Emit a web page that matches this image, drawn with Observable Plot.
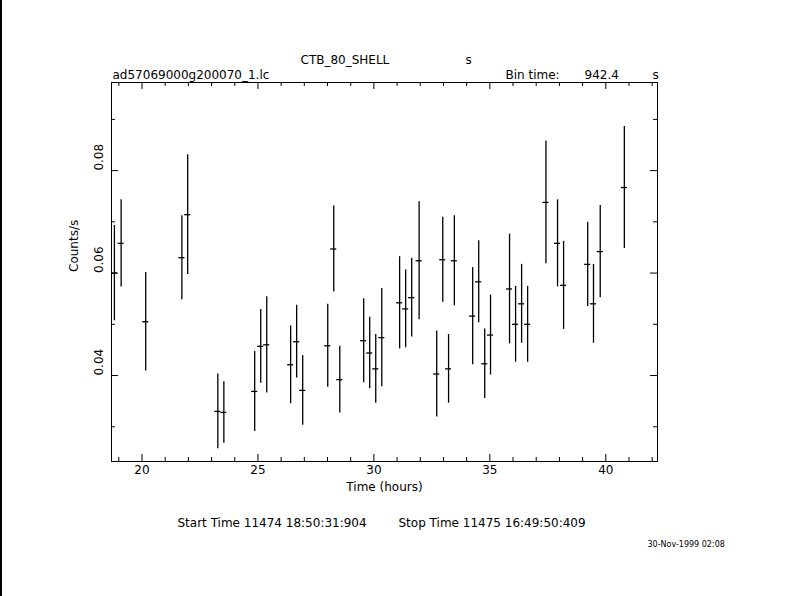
<!DOCTYPE html>
<html>
<head>
<meta charset="utf-8">
<script src="https://cdn.jsdelivr.net/npm/d3@7"></script>
<script src="https://cdn.jsdelivr.net/npm/@observablehq/plot@0.6"></script>
<style>
  html, body { margin: 0; padding: 0; background: white; }
  #wrap { position: relative; width: 790px; height: 596px; }
  #edge { position: absolute; left: 0; top: 0; width: 2px; height: 596px; background: black; }
</style>
</head>
<body>
<div id="wrap"><div id="edge"></div></div>
<script>
// Light curve: time (hours), rate (counts/s), 1-sigma error
const times = [18.81, 19.10, 20.16, 21.72, 21.97, 23.27, 23.53, 24.86, 25.12, 25.38,
  26.41, 26.67, 26.93, 28.01, 28.27, 28.53, 29.56, 29.82, 30.08, 30.34,
  31.11, 31.37, 31.63, 31.95, 32.71, 32.97, 33.22, 33.47, 34.26, 34.52,
  34.78, 35.03, 35.85, 36.11, 36.37, 36.63, 37.42, 37.92, 38.18, 39.22,
  39.47, 39.76, 40.80];
const rates = [0.0600, 0.0658, 0.0505, 0.0630, 0.0714, 0.0330, 0.0328, 0.0369, 0.0457, 0.0460,
  0.0421, 0.0466, 0.0371, 0.0458, 0.0647, 0.0392, 0.0468, 0.0444, 0.0413, 0.0474,
  0.0542, 0.0530, 0.0552, 0.0624, 0.0403, 0.0626, 0.0413, 0.0624, 0.0516, 0.0583,
  0.0423, 0.0479, 0.0569, 0.0500, 0.0540, 0.0500, 0.0738, 0.0658, 0.0576, 0.0617,
  0.0540, 0.0642, 0.0767];
const errors = [0.0093, 0.0085, 0.0096, 0.0082, 0.0117, 0.0073, 0.0060, 0.0078, 0.0072, 0.0094,
  0.0076, 0.0071, 0.0068, 0.0081, 0.0084, 0.0065, 0.0082, 0.0070, 0.0067, 0.0096,
  0.0090, 0.0076, 0.0077, 0.0115, 0.0084, 0.0083, 0.0067, 0.0088, 0.0095, 0.0080,
  0.0068, 0.0078, 0.0107, 0.0074, 0.0077, 0.0074, 0.0120, 0.0085, 0.0086, 0.0082,
  0.0077, 0.0090, 0.0119];
const binTimeSec = 942.4;
const xMajor = [20, 25, 30, 35, 40];
const xMinor = [19, 21, 22, 23, 24, 26, 27, 28, 29, 31, 32, 33, 34, 36, 37, 38, 39, 41, 42];
const yMajor = [0.04, 0.06, 0.08];
const yMinor = [0.03, 0.05, 0.07, 0.09];
const titleText = "CTB_80_SHELL";
const fileText = "ad57069000g200070_1.lc";
const startText = "Start Time 11474 18:50:31:904";
const stopText = "Stop Time 11475 16:49:50:409";
const dateText = "30-Nov-1999 02:08";

const data = times.map((t, i) => ({t, r: rates[i], e: errors[i]}));
const halfBin = binTimeSec / 3600 / 2;

const W = 790, H = 596, mL = 111, mR = 133, mT = 82, mB = 135;
const fw = W - mL - mR, fh = H - mT - mB;
const majorLen = 7, minorLen = 4;

const plot = Plot.plot({
  width: W, height: H,
  marginLeft: mL, marginRight: mR, marginTop: mT, marginBottom: mB,
  style: {fontFamily: "'DejaVu Sans', sans-serif", fontSize: "12px", background: "white", color: "black"},
  x: {domain: [18.685, 42.23], axis: null},
  y: {domain: [0.02322, 0.0972], axis: null},
  marks: [
    Plot.frame({stroke: "black", strokeWidth: 1}),
    // inward ticks
    Plot.tickX(xMajor, {x: d => d, insetTop: fh - majorLen}),
    Plot.tickX(xMajor, {x: d => d, insetBottom: fh - majorLen}),
    Plot.tickX(xMinor, {x: d => d, insetTop: fh - minorLen}),
    Plot.tickX(xMinor, {x: d => d, insetBottom: fh - minorLen}),
    Plot.tickY(yMajor, {y: d => d, insetRight: fw - majorLen}),
    Plot.tickY(yMajor, {y: d => d, insetLeft: fw - majorLen}),
    Plot.tickY(yMinor, {y: d => d, insetRight: fw - minorLen}),
    Plot.tickY(yMinor, {y: d => d, insetLeft: fw - minorLen}),
    // tick labels
    Plot.text(xMajor, {x: d => d, text: d => String(d), frameAnchor: "bottom", dy: 12}),
    Plot.text(yMajor, {y: d => d, text: d => d.toFixed(2), frameAnchor: "left", dx: -12, rotate: -90}),
    // axis labels
    Plot.text([ "Time (hours)" ], {text: d => d, frameAnchor: "bottom", dy: 29}),
    Plot.text([ "Counts/s" ], {text: d => d, frameAnchor: "left", dx: -37, rotate: -90}),
    // error bars
    Plot.ruleX(data, {x: "t", y1: d => d.r - d.e, y2: d => d.r + d.e, stroke: "black", strokeWidth: 1.3}),
    Plot.ruleY(data, {y: "r", x1: d => d.t - halfBin, x2: d => d.t + halfBin, stroke: "black", strokeWidth: 1.3}),
    // header texts
    Plot.text([titleText], {text: d => d, frameAnchor: "top-left", textAnchor: "start", dx: 189, dy: -27}),
    Plot.text(["s"], {text: d => d, frameAnchor: "top-left", textAnchor: "start", dx: 354, dy: -27}),
    Plot.text([fileText], {text: d => d, frameAnchor: "top-left", textAnchor: "start", dx: 1, dy: -12}),
    Plot.text(["Bin time:"], {text: d => d, frameAnchor: "top-left", textAnchor: "start", dx: 394, dy: -12}),
    Plot.text([String(binTimeSec)], {text: d => d, frameAnchor: "top-left", textAnchor: "start", dx: 473, dy: -12}),
    Plot.text(["s"], {text: d => d, frameAnchor: "top-left", textAnchor: "start", dx: 541, dy: -12}),
    // footer texts
    Plot.text([startText], {text: d => d, frameAnchor: "bottom-left", textAnchor: "start", dx: 66, dy: 65}),
    Plot.text([stopText], {text: d => d, frameAnchor: "bottom-left", textAnchor: "start", dx: 287, dy: 65}),
    Plot.text([dateText], {text: d => d, frameAnchor: "bottom-right", textAnchor: "start", dx: -10, dy: 85, fontSize: 8})
  ]
});
document.getElementById("wrap").appendChild(plot);
</script>
</body>
</html>
